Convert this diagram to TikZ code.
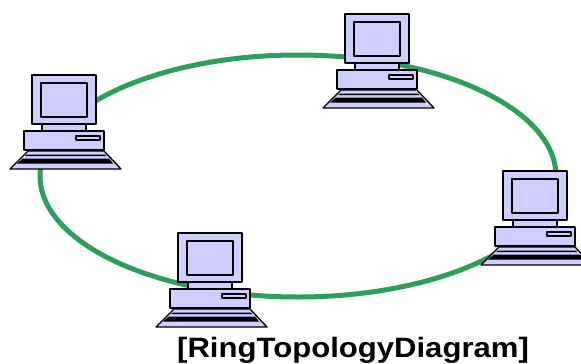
\documentclass[tikz,border=0pt]{standalone}
\usepackage{fontspec}
\setmainfont{Liberation Sans}
\usetikzlibrary{shapes.geometric, positioning}

\definecolor{ringgreen}{RGB}{46,158,92}
\definecolor{pclilac}{RGB}{206,206,255}

\tikzset{
	ring/.style={ellipse, draw=ringgreen, line width=5pt, minimum width=516pt, minimum height=242pt, inner sep=0pt},
	part/.style={draw=black, fill=pclilac, line width=1.3pt, line join=round},
	keys/.style={fill=black},
	pc/.pic={
		\draw[part] (-22,47) rectangle (22,57); % neck
		\draw[part] (-32,0) rectangle (32,49); % monitor
		\draw[part] (-23,8) rectangle (23,42);
		\draw[part] (-40,56) rectangle (40,75); % base
		\draw[part] (12,61) rectangle (36,65);
		\draw[part] (-36,76) -- (40,76) -- (57,94) -- (-54,94) -- cycle; % keyboard
		\fill[keys] (-37,79.5) -- (41,79.5) -- (42,81) -- (-39,81) -- cycle;
		\fill[keys] (-41,83.5) -- (45,83.5) -- (49,88.5) -- (-47,88.5) -- cycle;
	}
}

\begin{document}
\begin{tikzpicture}[x=1pt, y=-1pt]
	\useasboundingbox (0,0) rectangle (581,364);
	\node[ring] (ring) at (298,176) {};
	
	\coordinate (pc_top) at (377,14);
	\coordinate (pc_left) at (64,75);
	\coordinate (pc_right) at (535,171);
	\coordinate (pc_bottom) at (210,233);
	
	\pic at (pc_top) {pc};
	\pic at (pc_left) {pc};
	\pic at (pc_right) {pc};
	\pic at (pc_bottom) {pc};
	
	\node[anchor=base, inner sep=0pt, xscale=1.11, transform shape, font=\bfseries\fontsize{28}{32}\selectfont] (caption) at (353,357) {[RingTopologyDiagram]};
\end{tikzpicture}
\end{document}
